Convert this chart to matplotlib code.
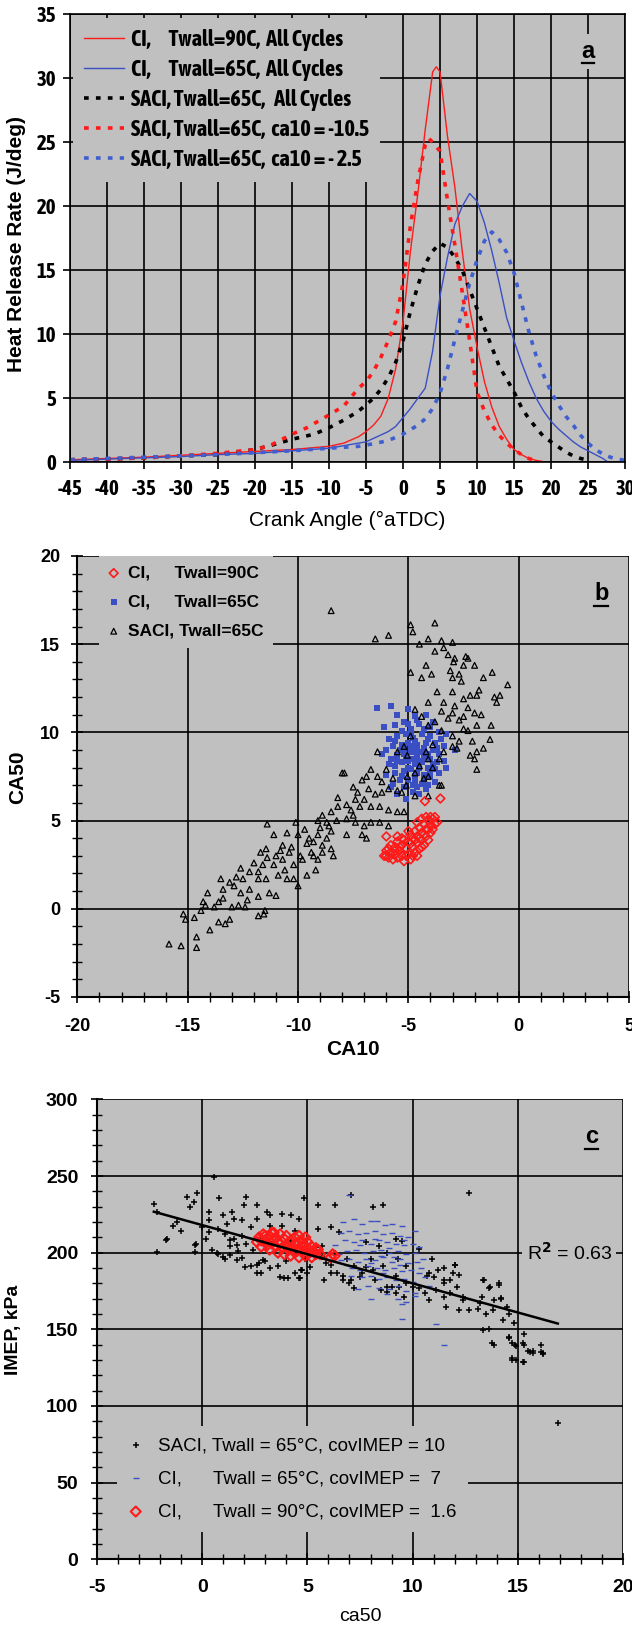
import numpy as np
import matplotlib.pyplot as plt
from matplotlib.ticker import MultipleLocator

plt.rcParams['axes.unicode_minus'] = False
plt.rcParams['font.weight'] = 'bold'

NARROW = ['Asap Condensed', 'Archivo Narrow', 'Liberation Sans', 'DejaVu Sans']
ARIAL = ['Liberation Sans', 'DejaVu Sans']
BG = '#c0c0c0'
RED = '#ff1a1a'
BLUE = '#3b4fc4'

# ---------------- panel a : heat release rate ----------------
ci90_x = [-45, -40, -35, -30, -25, -20, -15, -10, -8, -6, -5, -4, -3, -2, -1, 0, 1, 2, 3, 4, 4.5, 5,
          6, 7, 8, 9, 10, 11, 12, 13, 14, 15, 16, 17, 18, 19]
ci90_y = [0.2, 0.3, 0.4, 0.55, 0.7, 0.85, 1.0, 1.25, 1.5, 2.0, 2.4, 2.9, 3.6, 5.0, 7.3, 11, 16.5, 21, 26, 30.5, 30.9, 30.5,
          25.5, 21.5, 16.5, 12, 9.0, 6.3, 4.3, 2.8, 1.8, 1.0, 0.6, 0.3, 0.15, 0.05]

ci65_x = [-45, -40, -35, -30, -25, -20, -15, -10, -5, -2, -1, 0, 1, 2, 3, 4, 5, 6, 7, 8, 9, 10, 11, 12,
          13, 14, 15, 16, 17, 18, 19, 20, 21, 22, 23, 24, 25, 26, 27, 27.5]
ci65_y = [0.15, 0.25, 0.35, 0.45, 0.6, 0.7, 0.9, 1.1, 1.6, 2.4, 2.8, 3.5, 4.2, 5.0, 5.8, 8.7, 13.0, 16, 18.6, 20.0, 21.0, 20.4, 18.7, 16.5,
          14.0, 11.3, 9.5, 7.8, 6.3, 5.0, 4.0, 3.2, 2.6, 2.1, 1.6, 1.2, 0.9, 0.6, 0.3, 0.1]

saci_all_x = [-45, -40, -35, -30, -25, -20, -18, -15, -12, -10, -8, -6, -4, -3, -2, -1, 0, 1, 2, 3, 4, 5, 6, 7, 8,
              9, 10, 11, 12, 13, 14, 15, 16, 17, 18, 19, 20, 21, 22, 23, 24, 25]
saci_all_y = [0.2, 0.25, 0.35, 0.5, 0.6, 1.0, 1.3, 1.8, 2.2, 2.7, 3.3, 4.0, 5.0, 5.7, 6.6, 7.8, 9.5, 11.8, 13.8, 15.5, 16.5, 17.1, 16.8, 16.0, 15.0,
              13.5, 12.0, 10.5, 9.0, 7.5, 6.5, 5.5, 4.3, 3.4, 2.7, 2.0, 1.6, 1.2, 0.8, 0.5, 0.3, 0.15]

saci_early_x = [-45, -40, -35, -30, -25, -20, -18, -15, -13, -10, -8, -6, -5, -4, -3, -2, -1, 0, 1, 2, 3, 3.5, 4, 5,
                6, 7, 8, 9, 10, 11, 12, 13, 14, 15, 16, 17, 18]
saci_early_y = [0.2, 0.25, 0.35, 0.5, 0.7, 1.0, 1.3, 2.2, 2.7, 3.7, 4.4, 5.8, 6.3, 7.1, 8.2, 9.5, 11, 14, 18.5, 22, 24.8, 25.3, 25.0, 24.3,
                20.5, 17, 13.3, 9.5, 5.5, 4.0, 2.9, 2.1, 1.5, 1.0, 0.6, 0.3, 0.1]

saci_late_x = [-45, -40, -35, -30, -25, -20, -15, -10, -6, -4, -2, 0, 2, 3, 4, 5, 6, 7, 8, 9, 10, 11, 12, 13, 14,
               15, 16, 17, 18, 19, 20, 21, 22, 23, 24, 25, 26, 27, 28, 29, 30]
saci_late_y = [0.2, 0.3, 0.4, 0.5, 0.6, 0.75, 0.9, 1.1, 1.25, 1.45, 1.7, 2.2, 2.9, 3.4, 4.2, 5.4, 7.3, 9.6, 11.8, 14.0, 15.8, 17.3, 18.0, 17.4, 16.4,
               14.8, 12.5, 10.2, 8.3, 6.8, 5.5, 4.5, 3.6, 2.9, 2.1, 1.5, 1.0, 0.65, 0.4, 0.25, 0.15]

labels_a = ['CI,      Twall=90C,  All Cycles',
            'CI,      Twall=65C,  All Cycles',
            'SACI, Twall=65C,   All Cycles',
            'SACI, Twall=65C,  ca10 = -10.5',
            'SACI, Twall=65C,  ca10 = - 2.5']

# ---------------- panel b : CA50 vs CA10 ----------------
ci90_b = np.array([
    (-6.1, 3.0), (-6.0, 3.3), (-5.9, 2.9), (-5.8, 3.2), (-5.8, 3.6), (-5.7, 2.8), (-5.6, 3.1), (-5.6, 3.5), (-5.5, 3.8),
    (-5.5, 2.9), (-5.4, 3.3), (-5.3, 3.6), (-5.3, 3.0), (-5.2, 3.9), (-5.2, 2.7), (-5.1, 3.4), (-5.0, 3.8), (-5.0, 3.1),
    (-4.9, 4.2), (-4.9, 2.8), (-4.8, 3.5), (-4.8, 4.0), (-4.7, 3.2), (-4.7, 4.4), (-4.6, 3.7), (-4.6, 4.1), (-4.5, 3.4),
    (-4.5, 4.6), (-4.4, 3.9), (-4.4, 4.3), (-4.3, 3.6), (-4.3, 4.8), (-4.2, 4.1), (-4.2, 4.5), (-4.1, 3.9), (-4.1, 5.0),
    (-4.0, 4.3), (-4.0, 4.7), (-3.9, 4.5), (-3.9, 5.1), (-3.8, 4.8), (-3.8, 5.2), (-3.7, 4.9), (-5.0, 4.4), (-5.3, 4.0),
    (-4.6, 4.9), (-4.4, 5.1), (-4.8, 3.0), (-5.1, 3.0), (-5.4, 3.5), (-4.9, 3.7), (-4.7, 3.9), (-4.5, 4.0), (-4.3, 4.2),
    (-4.1, 4.5), (-4.0, 5.2), (-4.2, 5.2), (-5.6, 3.3), (-5.9, 3.4), (-6.0, 3.0), (-4.6, 3.0), (-4.4, 3.5), (-5.5, 4.1),
    (-3.55, 6.25), (-4.25, 6.1), (-6.0, 4.1)])

ci65_b = np.array([
    (-6.4, 11.4), (-5.8, 11.5), (-5.0, 11.3), (-4.2, 11.0), (-5.5, 11.0), (-4.7, 10.9), (-6.1, 10.3), (-5.6, 10.4),
    (-5.2, 10.6), (-4.9, 10.2), (-4.5, 10.5), (-4.0, 10.3), (-3.6, 10.0), (-3.3, 9.9), (-5.9, 9.6), (-5.5, 9.8),
    (-5.1, 9.9), (-4.8, 9.7), (-4.4, 9.9), (-4.1, 9.6), (-3.8, 9.4), (-3.4, 9.2), (-2.9, 9.0), (-6.0, 9.0), (-5.7, 9.2),
    (-5.3, 9.3), (-5.0, 9.4), (-4.6, 9.3), (-4.3, 9.1), (-3.9, 9.0), (-3.6, 8.8), (-5.8, 8.5), (-5.5, 8.7), (-5.2, 8.8),
    (-4.9, 8.9), (-4.6, 8.7), (-4.3, 8.6), (-4.0, 8.5), (-3.7, 8.3), (-3.4, 8.4), (-5.6, 8.1), (-5.3, 8.3), (-5.0, 8.4),
    (-4.7, 8.2), (-4.4, 8.3), (-4.1, 8.0), (-3.8, 7.9), (-6.0, 7.6), (-5.6, 7.7), (-5.2, 7.8), (-4.9, 7.9), (-4.6, 7.7),
    (-4.3, 7.6), (-4.0, 7.5), (-3.6, 7.7), (-5.7, 7.1), (-5.4, 7.3), (-5.0, 7.3), (-4.7, 7.2), (-4.4, 7.1), (-4.1, 7.0),
    (-3.8, 7.2), (-5.5, 6.5), (-5.1, 6.2), (-4.8, 6.6), (-4.5, 6.5), (-4.2, 6.8), (-5.2, 6.9), (-4.9, 10.0), (-4.6, 9.0),
    (-4.8, 8.5), (-5.1, 8.6), (-4.5, 8.0), (-4.7, 7.5), (-5.4, 9.0), (-4.2, 9.4), (-3.9, 8.2), (-5.0, 8.0), (-4.4, 8.9),
    (-5.3, 7.5), (-4.0, 9.8), (-4.7, 9.5), (-5.6, 9.5), (-3.5, 9.6), (-4.3, 10.2), (-5.9, 8.2), (-6.2, 8.8), (-3.3, 8.0),
    (-4.6, 6.9), (-5.8, 6.9), (-4.0, 7.8), (-4.9, 9.2), (-4.5, 8.4), (-5.2, 9.1), (-4.8, 7.0), (-4.1, 8.8), (-5.5, 8.4),
    (-4.3, 7.3), (-3.7, 9.1), (-5.0, 10.5), (-4.6, 10.7), (-3.9, 10.6), (-5.3, 10.1)])

saci_b = np.array([
    (-8.5, 16.9), (-6.5, 15.3), (-5.9, 15.5), (-4.9, 16.1), (-4.8, 15.7), (-3.8, 16.2), (-4.5, 15.0), (-4.1, 15.3),
    (-3.5, 15.2), (-3.4, 14.8), (-3.0, 15.1), (-3.8, 14.6), (-3.2, 14.4), (-2.9, 14.2), (-2.4, 14.3), (-2.3, 14.2),
    (-2.95, 14.0), (-2.5, 13.8), (-2.0, 13.8), (-4.2, 13.8), (-4.9, 13.4), (-4.4, 13.1), (-3.95, 13.3), (-3.1, 13.5),
    (-2.7, 13.3), (-1.6, 13.1), (-1.2, 13.4), (-2.6, 12.9), (-3.0, 13.1), (-0.5, 12.7), (-3.7, 12.3), (-3.0, 12.3),
    (-2.5, 11.9), (-2.2, 12.1), (-1.8, 12.4), (-1.9, 12.1), (-1.1, 12.0), (-0.85, 12.1), (-1.0, 11.7), (-3.4, 11.7),
    (-2.9, 11.5), (-2.3, 11.4), (-4.1, 11.7), (-3.5, 11.2), (-3.0, 11.1), (-2.5, 10.9), (-2.0, 11.1), (-1.7, 11.0),
    (-3.2, 10.8), (-2.7, 10.7), (-4.7, 11.3), (-4.4, 10.9), (-3.8, 10.6), (-2.5, 10.2), (-2.3, 10.1), (-1.9, 10.4),
    (-1.25, 10.4), (-3.5, 10.1), (-3.0, 9.8), (-2.7, 9.5), (-2.1, 9.5), (-1.3, 9.6), (-3.0, 9.2), (-2.8, 9.1),
    (-2.2, 8.7), (-1.9, 8.9), (-1.6, 9.1), (-2.0, 8.5), (-1.9, 7.9), (-3.4, 8.9), (-3.6, 8.5), (-3.9, 8.0), (-4.1, 8.5),
    (-4.5, 8.1), (-3.6, 7.0), (-4.1, 7.5),
    (-6.4, 8.9), (-6.7, 7.9), (-6.9, 7.5), (-7.1, 7.3), (-7.5, 6.9), (-7.9, 7.7), (-8.0, 7.7), (-6.4, 7.5), (-6.2, 7.2),
    (-5.9, 6.8), (-6.2, 6.6), (-5.5, 6.7), (-5.1, 7.0), (-5.3, 6.6), (-6.5, 6.5), (-7.0, 6.2), (-7.4, 6.2), (-7.8, 5.9),
    (-8.2, 6.3), (-8.2, 5.8), (-7.6, 5.6), (-7.2, 5.8), (-6.7, 5.8), (-6.3, 5.8), (-5.9, 5.6), (-5.5, 5.5), (-5.2, 5.5),
    (-4.7, 6.4), (-4.1, 6.4), (-3.5, 7.0), (-8.5, 5.5), (-8.9, 5.3), (-9.1, 5.0), (-8.7, 4.9), (-8.25, 5.0), (-7.8, 5.1),
    (-7.4, 4.9), (-7.0, 4.7), (-6.7, 4.9), (-6.3, 4.9), (-5.9, 4.7), (-7.1, 4.2), (-6.9, 4.0), (-7.8, 4.2), (-8.5, 4.4),
    (-9.1, 4.2), (-9.3, 3.8), (-8.9, 3.6), (-8.5, 3.4), (-8.4, 3.0), (-8.9, 3.2), (-9.4, 3.2), (-9.1, 2.8), (-9.2, 2.2),
    (-9.6, 3.7), (-10.0, 4.2), (-10.5, 4.3), (-11.1, 4.2), (-11.4, 4.8), (-10.1, 4.9), (-9.7, 4.5), (-10.7, 3.6),
    (-10.4, 3.2), (-9.8, 2.8), (-9.6, 1.9), (-10.2, 1.7), (-10.7, 2.8), (-11.1, 2.5), (-11.45, 3.4), (-11.4, 2.9),
    (-11.6, 2.5), (-11.8, 2.1), (-12.2, 2.1), (-12.5, 1.7), (-12.6, 2.3), (-11.8, 1.7), (-11.45, 1.7), (-10.9, 1.9),
    (-10.5, 1.7), (-10.0, 1.3), (-11.0, 0.75), (-11.3, 0.9), (-12.2, 1.1), (-12.6, 0.9), (-12.9, 1.3), (-13.1, 1.5),
    (-13.4, 1.1), (-11.8, 0.7), (-12.4, 0.1), (-11.5, -0.1), (-11.55, -0.3), (-11.8, -0.4), (-12.7, 0.2), (-13.0, 0.1),
    (-13.4, 0.6), (-13.6, 0.4), (-13.8, 0.1), (-14.2, 0.2), (-14.1, 0.9), (-14.3, 0.4), (-14.4, -0.1), (-14.7, -0.5),
    (-15.2, -0.3), (-15.1, -0.6), (-14.6, -1.6), (-14.0, -1.2), (-13.6, -0.75), (-13.3, -0.85), (-13.1, -0.6),
    (-14.6, -2.2), (-15.3, -2.1), (-15.85, -2.0),
    (-5.2, 9.2), (-5.5, 8.9), (-5.05, 8.7), (-4.7, 7.7), (-5.05, 7.5), (-4.3, 7.4), (-4.9, 9.8), (-4.1, 10.4),
    (-3.9, 9.3), (-4.2, 8.9), (-10.3, 3.5), (-9.9, 3.0), (-10.8, 3.3), (-9.5, 4.0), (-9.0, 4.6), (-8.7, 4.0),
    (-10.2, 2.5), (-11.0, 3.0), (-11.7, 3.2), (-12.0, 2.6), (-10.6, 2.2), (-9.3, 3.0), (-8.6, 4.7), (-7.5, 5.3),
    (-6.8, 6.8), (-7.3, 6.6), (-6.0, 7.9), (-5.7, 7.4), (-12.8, 1.8), (-13.5, 1.7), (-12.3, 0.5)])

labels_b = ['CI,     Twall=90C', 'CI,     Twall=65C', 'SACI, Twall=65C']

# ---------------- panel c : IMEP vs ca50 ----------------
saci_c = np.array([
    (-2.3, 231.7), (-2.15, 226.6), (-2.15, 200.7), (-1.67, 208.9), (-0.7, 236.6), (-0.6, 230), (-0.23, 238.8),
    (-0.4, 233), (-0.3, 205.5), (-0.35, 200.7), (0.54, 249.4), (0.34, 226.6), (0.82, 235.5), (1.0, 224.4),
    (1.4, 226.6), (1.2, 218.8), (2.0, 231), (2.1, 236.6), (2.6, 231), (3.1, 226.6), (3.2, 224.4), (3.8, 225.5),
    (4.2, 224.4), (4.6, 222.2), (4.85, 235.5), (5.5, 231), (6.3, 231), (7.05, 237.7), (8.1, 229.9), (8.6, 231),
    (12.7, 239.2), (9.5, 207.8), (10.3, 202.2), (10.9, 195.6), (11.5, 190), (12.0, 192.2), (11.9, 186.7),
    (11.2, 188.9), (10.7, 184.5), (11.5, 182.3), (12.1, 177.8), (11.8, 173.4), (12.4, 169), (12.2, 162.3),
    (13.4, 182.3), (13.65, 176.7), (14.1, 178.9), (13.3, 171.2), (13.85, 169), (14.2, 170.1), (13.1, 163.4),
    (13.5, 160.1), (14.5, 164.5), (14.6, 160.1), (13.65, 150.1), (13.85, 140.1), (14.6, 144.6), (14.7, 141.2),
    (14.9, 139), (15.3, 146.8), (15.3, 140.1), (15.5, 135.7), (15.7, 135.7), (16.1, 140.1), (16.2, 134.6),
    (14.9, 130.2), (14.7, 129.9), (15.3, 128.5), (15.7, 134.7), (16.2, 134), (16.9, 89),
    (-1.7, 208.3), (-0.33, 205), (0.2, 208.7), (0.46, 201.7), (0.7, 199.6), (1.0, 197.4), (1.33, 198.5),
    (1.65, 195.2), (2.04, 190.9), (2.6, 186.5), (1.33, 208.3), (1.65, 205), (2.1, 206), (2.4, 201.7), (2.7, 193),
    (2.9, 195.2), (3.2, 189.8), (3.7, 184.3), (4.1, 183.3), (4.6, 183.3), (4.7, 188.7), (5.0, 186.5), (5.1, 190.9),
    (5.4, 203.9), (5.7, 197.4), (5.8, 182.2), (6.1, 192), (6.4, 186.5), (6.7, 182.2), (7.0, 180), (7.2, 176.7),
    (7.5, 184.3), (7.8, 190.9), (8.1, 188.7), (8.5, 175.7), (8.8, 174.6), (9.0, 177.8), (9.2, 173.5), (9.6, 171.3),
    (9.7, 180), (10.0, 177.8), (10.3, 176.7), (10.6, 173.5), (10.8, 169.1), (11.1, 175.7), (11.5, 171.3),
    (11.6, 164.8), (12.0, 192), (12.2, 185.4), (11.8, 182.2), (11.5, 180), (10.8, 186.5), (11.0, 184.3),
    (12.4, 171.3), (12.7, 162.6), (13.2, 167), (13.35, 182.2), (13.7, 177.8), (14.1, 180), (14.2, 170.2),
    (13.8, 162.6), (14.3, 156), (14.8, 153.9), (13.35, 149.6), (13.75, 140.9), (14.6, 145.2), (14.85, 139.8),
    (15.25, 140.9), (15.6, 135.4), (16.1, 135.4), (14.7, 131), (15.25, 128.9),
    (-1.4, 217.7), (-1.0, 214.4), (-1.2, 220), (0.0, 216.6), (0.34, 213.3), (0.73, 215.5), (1.1, 212.2),
    (1.5, 208.9), (1.9, 211.1), (2.3, 216.6), (1.3, 204.4), (1.7, 201.1), (0.73, 198.9), (1.1, 195.6), (1.9, 196.7),
    (2.3, 191.1), (2.6, 192.2), (3.0, 194.5), (3.6, 191.1), (4.0, 194.5), (4.4, 186.7), (4.75, 188.9), (4.65, 183.4),
    (3.9, 183.4), (2.8, 186.7), (4.9, 195.6), (5.3, 201.1), (5.7, 204.4), (5.5, 215.5), (6.1, 216.6), (6.5, 213.3),
    (6.3, 200), (6.9, 195.6), (7.2, 191.1), (7.6, 186.7), (7.05, 182.3), (6.7, 184.5), (6.1, 186.7), (5.9, 193.3),
    (2.8, 207.8), (3.4, 206.7), (4.2, 207.8), (4.65, 204.4), (4.4, 214.4), (3.8, 217.7), (3.2, 217.7), (2.6, 222.2),
    (1.9, 221.1), (1.5, 222.2), (0.34, 221.1), (7.8, 206.7), (8.4, 204.4), (8.8, 200), (9.2, 208.9), (9.3, 195.6),
    (9.7, 191.1), (8.6, 191.1), (8.0, 195.6), (8.2, 182.3), (8.8, 177.8), (9.2, 184.5), (9.35, 177.8)])

ci65_c = np.array([
    (7.0, 237.7), (6.7, 220), (7.2, 222), (7.6, 219), (8.0, 221), (8.3, 221), (8.7, 218), (9.0, 219), (9.5, 217.7),
    (10.1, 214.4), (6.6, 213), (7.0, 214), (7.4, 212), (7.8, 213), (8.2, 214), (8.6, 212), (9.0, 213), (9.4, 211),
    (9.8, 210), (6.3, 205), (6.8, 208), (7.2, 207), (7.6, 208), (8.0, 206), (8.4, 208), (8.8, 207), (9.2, 206),
    (9.6, 205), (10.0, 206), (10.3, 204), (6.5, 199), (6.9, 201), (7.3, 202), (7.7, 200), (8.1, 201), (8.5, 202),
    (8.9, 200), (9.3, 201), (9.7, 199), (10.1, 200), (10.5, 196), (6.6, 195), (7.0, 196), (7.4, 194), (7.8, 196),
    (8.2, 195), (8.6, 197), (9.0, 194), (9.4, 196), (9.8, 193), (10.2, 194), (7.1, 190), (7.5, 189), (7.9, 191),
    (8.3, 190), (8.7, 189), (9.1, 190), (9.5, 188), (9.9, 189), (10.3, 187), (7.05, 185), (7.6, 184), (8.0, 185),
    (8.4, 183), (8.8, 184), (9.2, 182), (9.6, 183), (10.0, 181), (7.4, 176), (7.9, 178), (8.4, 177), (8.9, 176),
    (9.3, 178), (9.7, 175), (10.1, 174), (8.0, 170), (8.8, 173), (9.3, 170), (9.7, 168), (10.1, 172), (9.5, 166.7),
    (9.5, 156.8), (11.1, 153.4), (11.5, 140.1), (8.5, 198), (8.9, 203), (8.2, 209), (7.5, 205), (9.1, 197),
    (9.6, 208), (8.0, 193), (8.6, 187), (9.4, 192), (10.4, 190), (10.6, 184), (10.8, 178), (6.9, 192)])

ci90_c = np.array([
    (2.6, 207), (2.7, 210), (2.8, 204), (2.9, 212), (3.0, 208), (3.1, 205), (3.2, 211), (3.2, 202), (3.3, 213),
    (3.4, 208), (3.5, 204), (3.5, 210), (3.6, 200), (3.7, 212), (3.7, 206), (3.8, 203), (3.9, 209), (3.9, 199),
    (4.0, 205), (4.0, 211), (4.1, 202), (4.2, 208), (4.2, 198), (4.3, 204), (4.4, 210), (4.4, 200), (4.5, 206),
    (4.6, 197), (4.6, 203), (4.7, 208), (4.8, 201), (4.8, 205), (4.9, 198), (5.0, 203), (5.0, 207), (5.1, 200),
    (5.2, 197), (5.2, 204), (5.3, 201), (5.4, 199), (5.4, 203), (3.0, 211), (3.4, 213), (2.8, 208), (4.6, 211),
    (4.9, 210), (3.6, 207), (4.1, 204), (4.5, 201), (3.3, 206), (6.1, 197), (6.2, 199), (6.3, 198), (5.6, 199),
    (5.5, 202)])

trend_slope = -3.8
trend_intercept = 218.0
r2_text = 'R$^2$ = 0.63'

labels_c = ['SACI, Twall = 65°C, covIMEP = 10',
            'CI,      Twall = 65°C, covIMEP =  7',
            'CI,      Twall = 90°C, covIMEP =  1.6']

fig = plt.figure(figsize=(6.32, 16.29), dpi=100)


def tag(ax, x, y, s, yu, hw):
    # underlined panel letter
    ax.text(x, y, s, ha='center', va='center', fontsize=17, fontweight='bold',
            family=ARIAL, zorder=8, bbox=dict(fc=BG, ec='none', pad=4))
    ax.plot([x - hw, x + hw], [yu, yu], color='black', lw=1.6, zorder=9)


# ---- panel a
ax = fig.add_axes([0.1108, 0.7162, 0.8782, 0.2750])
ax.set_facecolor(BG)
ax.set_axisbelow(True)
ax.plot(ci90_x, ci90_y, color=RED, lw=1.0)
ax.plot(ci65_x, ci65_y, color=BLUE, lw=1.0)
dots = (0, (1.3, 2.0))
ax.plot(saci_all_x, saci_all_y, color='black', lw=2.6, ls=dots)
ax.plot(saci_early_x, saci_early_y, color=RED, lw=2.6, ls=dots)
ax.plot(saci_late_x, saci_late_y, color='#3f5fd0', lw=2.6, ls=dots)
ax.set_xlim(-45, 30)
ax.set_ylim(0, 35)
ax.set_xticks(np.arange(-45, 31, 5))
ax.set_yticks(np.arange(0, 36, 5))
ax.grid(True, color='black', lw=1.2)
ax.tick_params(direction='out', length=5, width=1.2, labelsize=15, labelfontfamily=NARROW)
ax.tick_params(axis='x', pad=7)
ax.tick_params(axis='y', pad=5)
for sp in ax.spines.values():
    sp.set_color('black')
    sp.set_linewidth(1.2)
leg = ax.legend(ax.get_lines(), labels_a, loc='upper left', bbox_to_anchor=(0.0, 1.0),
                borderaxespad=0.15, prop={'family': NARROW, 'weight': 'bold', 'size': 16},
                handlelength=1.8, handletextpad=0.3, labelspacing=0.36, borderpad=0.5,
                frameon=True, facecolor=BG, edgecolor='none', framealpha=1, fancybox=False)
leg.set_zorder(7)
ax.text(-0.097, 0.487, 'Heat Release Rate (J/deg)', transform=ax.transAxes, rotation=90,
        ha='center', va='center', fontsize=15, fontweight='bold', family=ARIAL)
ax.text(0.5, -0.129, 'Crank Angle (°aTDC)', transform=ax.transAxes,
        ha='center', va='center', fontsize=15, fontweight='normal', family=ARIAL)
tag(ax, 25, 32.1, 'a', 31.2, 0.8)

# ---- panel b
ax = fig.add_axes([0.1225, 0.3880, 0.8728, 0.2707])
ax.set_facecolor(BG)
ax.set_axisbelow(True)
hb = ax.scatter(ci65_b[:, 0], ci65_b[:, 1], marker='s', s=15, color=BLUE, lw=0, zorder=2)
hs = ax.scatter(saci_b[:, 0], saci_b[:, 1], marker='^', s=17, facecolor='none',
                edgecolor='black', lw=0.9, zorder=3)
hr = ax.scatter(ci90_b[:, 0], ci90_b[:, 1], marker='D', s=20, facecolor='none',
                edgecolor=RED, lw=1.2, zorder=4)
ax.set_xlim(-20, 5)
ax.set_ylim(-5, 20)
ax.xaxis.set_major_locator(MultipleLocator(5))
ax.yaxis.set_major_locator(MultipleLocator(5))
ax.xaxis.set_minor_locator(MultipleLocator(1))
ax.yaxis.set_minor_locator(MultipleLocator(1))
ax.grid(True, which='major', color='black', lw=1.2)
ax.tick_params(which='major', direction='inout', length=9, width=1.2, labelsize=13,
               labelfontfamily=ARIAL)
ax.tick_params(which='minor', direction='inout', length=7, width=1.0)
ax.tick_params(axis='x', which='major', pad=11)
ax.tick_params(axis='y', which='major', pad=8)
ax.spines['top'].set_visible(False)
ax.spines['right'].set_visible(False)
ax.spines['left'].set_linewidth(1.5)
ax.spines['bottom'].set_linewidth(1.5)
leg = ax.legend([hr, hb, hs], labels_b, loc='upper left', bbox_to_anchor=(0.039, 1.0),
                borderaxespad=0.0, prop={'family': ARIAL, 'weight': 'bold', 'size': 12.5},
                handlelength=0.6, handletextpad=0.5, labelspacing=0.8, borderpad=0.55,
                scatterpoints=1, frameon=True, facecolor=BG, edgecolor='none', framealpha=1,
                fancybox=False)
leg.set_zorder(7)
ax.text(-0.108, 0.499, 'CA50', transform=ax.transAxes, rotation=90,
        ha='center', va='center', fontsize=15, fontweight='bold', family=ARIAL)
ax.text(0.5, -0.12, 'CA10', transform=ax.transAxes,
        ha='center', va='center', fontsize=15, fontweight='bold', family=ARIAL)
tag(ax, 3.74, 17.9, 'b', 17.15, 0.32)

# ---- panel c
ax = fig.add_axes([0.1535, 0.0428, 0.8323, 0.2823])
ax.set_facecolor(BG)
ax.set_axisbelow(True)
hs = ax.scatter(saci_c[:, 0], saci_c[:, 1], marker='+', s=24, color='black', lw=1.1, zorder=2)
hb = ax.scatter(ci65_c[:, 0], ci65_c[:, 1], marker='_', s=14, color=BLUE, lw=1.0, zorder=3)
hr = ax.scatter(ci90_c[:, 0], ci90_c[:, 1], marker='D', s=26, facecolor='none',
                edgecolor=RED, lw=1.5, zorder=4)
tx = np.array([saci_c[:, 0].min(), saci_c[:, 0].max()])
ax.plot(tx, trend_intercept + trend_slope * tx, color='black', lw=1.8, zorder=5)
ax.set_xlim(-5, 20)
ax.set_ylim(0, 300)
ax.xaxis.set_major_locator(MultipleLocator(5))
ax.yaxis.set_major_locator(MultipleLocator(50))
ax.xaxis.set_minor_locator(MultipleLocator(1))
ax.yaxis.set_minor_locator(MultipleLocator(10))
ax.grid(True, which='major', color='black', lw=1.2)
ax.tick_params(which='major', direction='inout', length=9, width=1.2, labelsize=14,
               labelfontfamily=ARIAL)
ax.tick_params(which='minor', direction='inout', length=7, width=1.0)
ax.tick_params(axis='x', which='major', pad=10)
ax.tick_params(axis='y', which='major', pad=9)
ax.spines['top'].set_visible(False)
ax.spines['right'].set_visible(False)
ax.spines['left'].set_linewidth(1.5)
ax.spines['bottom'].set_linewidth(1.5)
leg = ax.legend([hs, hb, hr], labels_c, loc='lower left', bbox_to_anchor=(0.038, 0.06),
                borderaxespad=0.0, prop={'family': ARIAL, 'size': 13.5, 'weight': 'normal'},
                handlelength=0.8, handletextpad=0.8, labelspacing=0.85, borderpad=0.6,
                scatterpoints=1, frameon=True, facecolor=BG, edgecolor='none', framealpha=1,
                fancybox=False)
leg.set_zorder(7)
ax.text(17.45, 200, r2_text, ha='center', va='center', fontsize=14, fontweight='normal',
        family=ARIAL, zorder=8, bbox=dict(fc=BG, ec='none', pad=3))
ax.text(-0.158, 0.498, 'IMEP, kPa', transform=ax.transAxes, rotation=90,
        ha='center', va='center', fontsize=14, fontweight='bold', family=ARIAL)
ax.text(0.5, -0.125, 'ca50', transform=ax.transAxes,
        ha='center', va='center', fontsize=14, fontweight='normal', family=ARIAL)
tag(ax, 18.5, 275.5, 'c', 267.8, 0.32)

fig.savefig('out.png', dpi=100, facecolor='white')
